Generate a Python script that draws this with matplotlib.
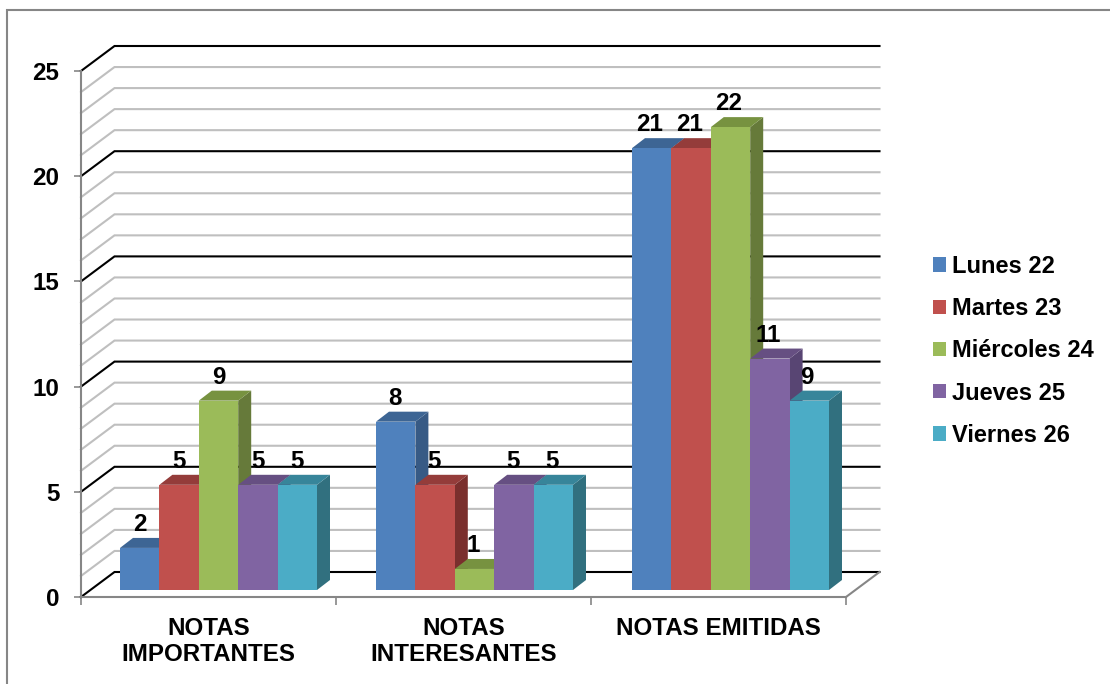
import matplotlib
matplotlib.use('Agg')
import matplotlib.pyplot as plt
from matplotlib.patches import Polygon, Patch, Rectangle

plt.rcParams['font.family'] = ['Liberation Sans', 'DejaVu Sans']

# Data
categories = ['NOTAS\nIMPORTANTES', 'NOTAS\nINTERESANTES', 'NOTAS EMITIDAS']
dias = ['Lunes 22', 'Martes 23', 'Miércoles 24', 'Jueves 25', 'Viernes 26']
lunes = [2, 8, 21]
martes = [5, 5, 21]
miercoles = [9, 1, 22]
jueves = [5, 5, 11]
viernes = [5, 5, 9]
series = [lunes, martes, miercoles, jueves, viernes]
y_ticks = [0, 5, 10, 15, 20, 25]

# front, side, top colours for each series
front = ['#4F81BD', '#C0504D', '#9BBB59', '#8064A2', '#4BACC6']
side = ['#375A85', '#7A2F2D', '#667A3A', '#584573', '#31707F']
top = ['#3D6594', '#943C3A', '#779240', '#664F82', '#37859A']

font_size = 17.4

fig = plt.figure(figsize=(11.1, 6.84), dpi=100)
# outer frame runs off the right and bottom of the picture
fig.add_artist(Rectangle((7 / 1110, -0.01), 1.02, 1.01 - 10 / 684, transform=fig.transFigure,
                         fill=False, edgecolor='#868686', linewidth=1.5))

ax = fig.add_axes([81 / 1110, 87 / 684, 765 / 1110, 526 / 684])
ax.set_xlim(0, 3)
ax.set_ylim(0, 25)
ax.patch.set_visible(False)

# wall depth and bar layout in data units (255 px per category, 21.04 px per unit)
wall_dx = 33.5 / 255
wall_dy = 25 / 21.04
bar_w = 39.4 / 255
bar_start = 39 / 255
group_step = 256 / 255
bar_dx = 13 / 255
bar_dy = 10 / 21.04
base = 7 / 21.04

# gridlines on the back wall and the side wall
for major in [False, True]:
    for v in range(26):
        if (v % 5 == 0) != major:
            continue
        c = 'black' if major else '#BFBFBF'
        ax.plot([0, wall_dx, 3 + wall_dx], [v, v + wall_dy, v + wall_dy], color=c,
                linewidth=1.5, clip_on=False, zorder=2, solid_joinstyle='miter')

# floor edge on the right
ax.plot([3, 3 + wall_dx], [0, wall_dy], color='#868686', linewidth=1.5, clip_on=False, zorder=2)

# bars
for i, vals in enumerate(series):
    for j, v in enumerate(vals):
        x0 = j * group_step + bar_start + i * bar_w
        x1 = x0 + bar_w
        y1 = base + v
        ax.add_patch(Polygon([(x1, base), (x1 + bar_dx, base + bar_dy), (x1 + bar_dx, y1 + bar_dy), (x1, y1)],
                             facecolor=side[i], edgecolor='none', clip_on=False, zorder=3 + i))
        ax.add_patch(Polygon([(x0, y1), (x0 + bar_dx, y1 + bar_dy), (x1 + bar_dx, y1 + bar_dy), (x1, y1)],
                             facecolor=top[i], edgecolor='none', clip_on=False, zorder=3 + i))
        ax.add_patch(Rectangle((x0, base), bar_w, v, facecolor=front[i], edgecolor='none',
                               clip_on=False, zorder=3 + i))
        ax.text(j + bar_start + (i + 0.5) * bar_w, y1 + 17 / 21.04, str(v), ha='center', va='baseline',
                fontsize=font_size, fontweight='bold', color='black', zorder=10)

# axes
for s in ['top', 'right']:
    ax.spines[s].set_visible(False)
for s in ['left', 'bottom']:
    ax.spines[s].set_color('#868686')
    ax.spines[s].set_linewidth(1.5)
    ax.spines[s].set_zorder(2.5)
ax.set_yticks(y_ticks)
ax.set_yticklabels([str(t) for t in y_ticks], fontsize=font_size, fontweight='bold')
ax.tick_params(axis='y', length=5, width=1.2, color='#868686', pad=10.5)
ax.set_xticks([0, 1, 2, 3])
ax.set_xticklabels([])
ax.tick_params(axis='x', which='major', length=6, width=1.2, color='#868686')
ax.set_xticks([0.5, 1.5, 2.5], minor=True)
ax.set_xticklabels(categories, minor=True, fontsize=font_size, fontweight='bold', linespacing=1.13)
ax.tick_params(axis='x', which='minor', length=0, pad=14.7)

# legend
handles = [Patch(facecolor=c, edgecolor='none') for c in front]
fig.legend(handles, dias, loc='upper left', bbox_to_anchor=(924 / 1110, 1 - 245.5 / 684), frameon=False,
           prop={'size': 17, 'weight': 'bold'}, handlelength=0.55, handleheight=0.55,
           handletextpad=0.24, labelspacing=0.815, borderpad=0.4, borderaxespad=0)

fig.savefig('out.png', dpi=100)
